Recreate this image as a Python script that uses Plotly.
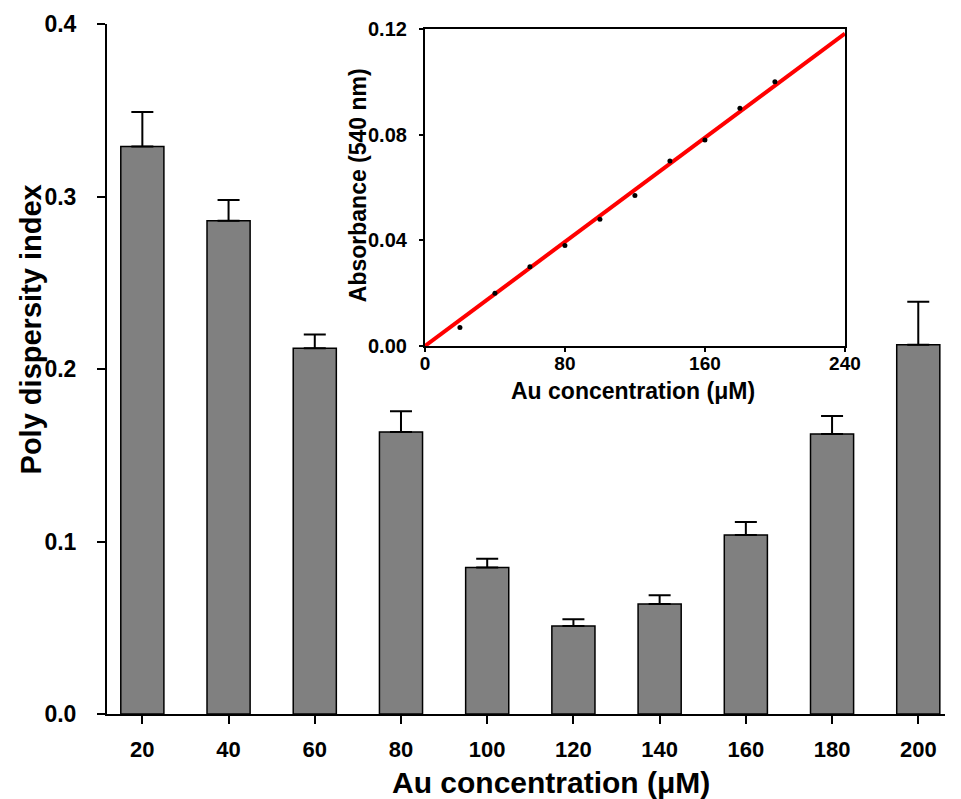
import plotly.graph_objects as go

# Main chart data
conc = [20, 40, 60, 80, 100, 120, 140, 160, 180, 200]
pdi = [0.329, 0.286, 0.212, 0.1635, 0.085, 0.051, 0.0638, 0.1038, 0.1623, 0.214]
pdi_err = [0.020, 0.012, 0.008, 0.012, 0.005, 0.004, 0.005, 0.0075, 0.0105, 0.025]

# Inset data
inset_x = [20, 40, 60, 80, 100, 120, 140, 160, 180, 200]
absorb = [0.007, 0.020, 0.030, 0.038, 0.048, 0.057, 0.070, 0.078, 0.090, 0.100]
fit_x = [0, 240]
fit_y = [0.0, 0.1183]

main_ticks = [0.0, 0.1, 0.2, 0.3, 0.4]
main_tick_text = ["0.0", "0.1", "0.2", "0.3", "0.4"]
inset_yticks = [0.0, 0.04, 0.08, 0.12]
inset_ytext = ["0.00", "0.04", "0.08", "0.12"]
inset_xticks = [0, 80, 160, 240]

AR = "Liberation Sans, Arial, sans-serif"

# plot area in pixels: x 107..961, y 24..714
L, R, T, B = 107, 961, 24, 714
def px(x):
    return (x - L) / (R - L)
def py(y):
    return (B - y) / (B - T)

fig = go.Figure()
fig.add_trace(go.Bar(
    x=conc, y=pdi, width=10,
    marker=dict(color="#808080", line=dict(color="black", width=1.5)),
    error_y=dict(type="data", symmetric=False, array=pdi_err,
                 arrayminus=[0] * len(pdi_err), color="black",
                 thickness=2, width=11),
    xaxis="x", yaxis="y", showlegend=False,
))
fig.add_trace(go.Scatter(
    x=fit_x, y=fit_y, mode="lines",
    line=dict(color="#ff0000", width=4),
    xaxis="x2", yaxis="y2", showlegend=False, cliponaxis=False,
))
fig.add_trace(go.Scatter(
    x=inset_x, y=absorb, mode="markers",
    marker=dict(color="black", size=5),
    xaxis="x2", yaxis="y2", showlegend=False,
))

tf = lambda s: dict(family=AR, size=s, color="black", weight="bold")

fig.update_layout(
    width=961, height=799,
    margin=dict(l=L, r=961 - R, t=T, b=799 - B),
    paper_bgcolor="white", plot_bgcolor="white",
    xaxis=dict(
        domain=[0, 1], range=[11.8, 206.2],
        tickmode="array", tickvals=conc, ticktext=[str(c) for c in conc],
        ticks="outside", ticklen=8, tickwidth=2, tickcolor="black",
        showline=True, linecolor="black", linewidth=2,
        showgrid=False, zeroline=False, ticklabelstandoff=7,
        tickfont=tf(22),
    ),
    yaxis=dict(
        domain=[0, 1], range=[0, 0.4],
        tickmode="array", tickvals=main_ticks, ticktext=main_tick_text,
        ticks="outside", ticklen=8, tickwidth=2, tickcolor="black",
        showline=True, linecolor="black", linewidth=2,
        showgrid=False, zeroline=False, ticklabelstandoff=16,
        tickfont=tf(23),
    ),
    xaxis2=dict(
        domain=[px(431), px(859)], anchor="y2", range=[0, 240],
        tickmode="array", tickvals=inset_xticks,
        ticks="outside", ticklen=4, tickwidth=2, tickcolor="black",
        showline=True, linecolor="black", linewidth=2, mirror=True,
        showgrid=False, zeroline=False, ticklabelstandoff=-5,
        tickfont=tf(19),
    ),
    yaxis2=dict(
        domain=[py(346), py(29)], anchor="x2", range=[0, 0.12],
        tickmode="array", tickvals=inset_yticks, ticktext=inset_ytext,
        ticks="outside", ticklen=4, tickwidth=2, tickcolor="black",
        showline=True, linecolor="black", linewidth=2, mirror=True,
        showgrid=False, zeroline=False, ticklabelstandoff=8,
        tickfont=tf(20),
    ),
    annotations=[
        dict(text="Au concentration (μM)", xref="paper", yref="paper",
             x=px(559), y=py(782), showarrow=False, font=tf(30),
             xanchor="center", yanchor="middle"),
        dict(text="Poly dispersity index", xref="paper", yref="paper",
             x=px(30), y=py(329), showarrow=False, font=tf(29), textangle=-90,
             xanchor="center", yanchor="middle"),
        dict(text="Au concentration (μM)", xref="paper", yref="paper",
             x=px(643), y=py(391), showarrow=False, font=tf(23),
             xanchor="center", yanchor="middle"),
        dict(text="Absorbance (540 nm)", xref="paper", yref="paper",
             x=px(363), y=py(185), showarrow=False, font=tf(23), textangle=-90,
             xanchor="center", yanchor="middle"),
    ],
)

fig.write_html("out.html")
